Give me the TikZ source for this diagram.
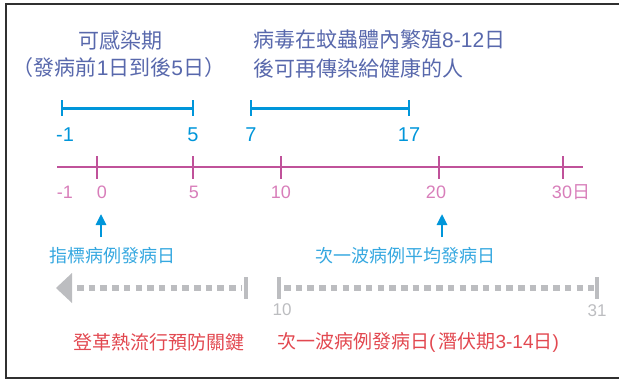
\documentclass[tikz,border=0pt]{standalone}
\usepackage{fontspec}
\setmainfont{Noto Sans CJK TC}
\newfontfamily\numfont{Liberation Sans}
\usetikzlibrary{arrows.meta,positioning,calc}
\definecolor{titleblue}{RGB}{88,104,172}
\definecolor{lineblue}{RGB}{0,150,218}
\definecolor{labelblue}{RGB}{54,168,224}
\definecolor{axispink}{RGB}{192,82,154}
\definecolor{numpink}{RGB}{216,126,186}
\definecolor{dotgrey}{RGB}{188,189,192}
\definecolor{keyred}{RGB}{226,72,80}
\definecolor{framegrey}{RGB}{48,48,48}
\tikzstyle{outerframe}=[draw=framegrey,line width=2pt]
\tikzstyle{heading}=[text=titleblue,inner sep=0pt,font=\fontsize{21}{25}\selectfont]
\tikzstyle{rangebar}=[draw=lineblue,line width=3pt]
\tikzstyle{rangetick}=[draw=lineblue,line width=2.5pt]
\tikzstyle{rangenum}=[text=lineblue,inner sep=0pt,font=\numfont\fontsize{20}{24}\selectfont]
\tikzstyle{dayaxis}=[draw=axispink,line width=2.6pt]
\tikzstyle{axisnum}=[text=numpink,inner sep=0pt,font=\fontsize{18}{22}\selectfont]
\tikzstyle{uparrow}=[draw=lineblue,line width=2.6pt,-{Triangle[width=10pt,length=11pt]}]
\tikzstyle{marktext}=[text=labelblue,inner sep=0pt,font=\fontsize{18}{22}\selectfont]
\tikzstyle{greydots}=[draw=dotgrey,line width=5.5pt,dash pattern=on 6.5pt off 5.2pt]
\tikzstyle{greytick}=[draw=dotgrey,line width=4pt]
\tikzstyle{greynum}=[text=dotgrey,inner sep=0pt,font=\numfont\fontsize{17}{20}\selectfont]
\tikzstyle{keytext}=[text=keyred,inner sep=0pt,font=\fontsize{19}{23}\selectfont]

\begin{document}
\begin{tikzpicture}[x=1pt, y=-1pt]
	\useasboundingbox (0,0) rectangle (619,380);
	\draw[outerframe] (630,4) -- (6,4) -- (6,378) -- (630,378);

	\node[heading] (infect) at (120,40) {可感染期};
	\node[heading] (infectdays) at (119,68) {（發病前{\numfont 1}日到後{\numfont 5}日）};
	\node[heading, anchor=west] (virus) at (253,40) {病毒在蚊蟲體內繁殖{\numfont 8-12}日};
	\node[heading, anchor=west] (virus2) at (253,68) {後可再傳染給健康的人};

	\coordinate (r1) at (62,108);
	\coordinate (r5) at (193,108);
	\coordinate (r7) at (251,108);
	\coordinate (r17) at (409,108);
	\draw[rangebar] (r1) -- (r5);
	\draw[rangebar] (r7) -- (r17);
	\draw[rangetick] ($(r1)+(0,-8)$) -- ($(r1)+(0,8)$);
	\draw[rangetick] ($(r5)+(0,-8)$) -- ($(r5)+(0,8)$);
	\draw[rangetick] ($(r7)+(0,-8)$) -- ($(r7)+(0,8)$);
	\draw[rangetick] ($(r17)+(0,-8)$) -- ($(r17)+(0,8)$);
	\node[rangenum] (n1) at ($(r1)+(3,27)$) {-1};
	\node[rangenum] (n5) at ($(r5)+(0,27)$) {5};
	\node[rangenum] (n7) at ($(r7)+(0,27)$) {7};
	\node[rangenum] (n17) at ($(r17)+(0,27)$) {17};

	\coordinate (axstart) at (57,167);
	\coordinate (axend) at (583,167);
	\draw[dayaxis] (axstart) -- (axend);
	\foreach \x in {97,193,281,439,563}
		\draw[dayaxis] (\x,156) -- (\x,179);
	\node[axisnum] (am1) at (65,192) {\numfont -1};
	\node[axisnum] (a0) at (102,192) {\numfont 0};
	\node[axisnum] (a5) at (194,192) {\numfont 5};
	\node[axisnum] (a10) at (281,192) {\numfont 10};
	\node[axisnum] (a20) at (436,192) {\numfont 20};
	\node[axisnum] (a30) at (571,192) {{\numfont 30}日};

	\coordinate (base0) at (101,237);
	\coordinate (tip0) at (101,214);
	\coordinate (base20) at (442,237);
	\coordinate (tip20) at (442,214);
	\draw[uparrow] (base0) -- (tip0);
	\draw[uparrow] (base20) -- (tip20);
	\node[marktext] (index) at (112,256) {指標病例發病日};
	\node[marktext] (nextavg) at (405,256) {次一波病例平均發病日};

	\coordinate (ltip) at (56,288);
	\coordinate (lend) at (246,288);
	\coordinate (r10) at (279,288);
	\coordinate (r31) at (597,288);
	\fill[dotgrey] (ltip) -- ++(16,-15) -- ++(0,30) -- cycle;
	\draw[greydots] ($(ltip)+(21,0)$) -- ($(lend)+(-4,0)$);
	\draw[greydots] ($(r10)+(5,0)$) -- ($(r31)+(-3,0)$);
	\draw[greytick] ($(lend)+(0,-11)$) -- ($(lend)+(0,11)$);
	\draw[greytick] ($(r10)+(0,-11)$) -- ($(r10)+(0,11)$);
	\draw[greytick] ($(r31)+(0,-11)$) -- ($(r31)+(0,11)$);
	\node[greynum] (g10) at ($(r10)+(3,22)$) {10};
	\node[greynum] (g31) at ($(r31)+(0,23)$) {31};

	\node[keytext] (prevent) at (159,342) {登革熱流行預防關鍵};
	\node[keytext] (nextwave) at (418,342) {次一波病例發病日{\numfont(}\,潛伏期{\numfont 3-14}日{\numfont)}};

\end{tikzpicture}
\end{document}
